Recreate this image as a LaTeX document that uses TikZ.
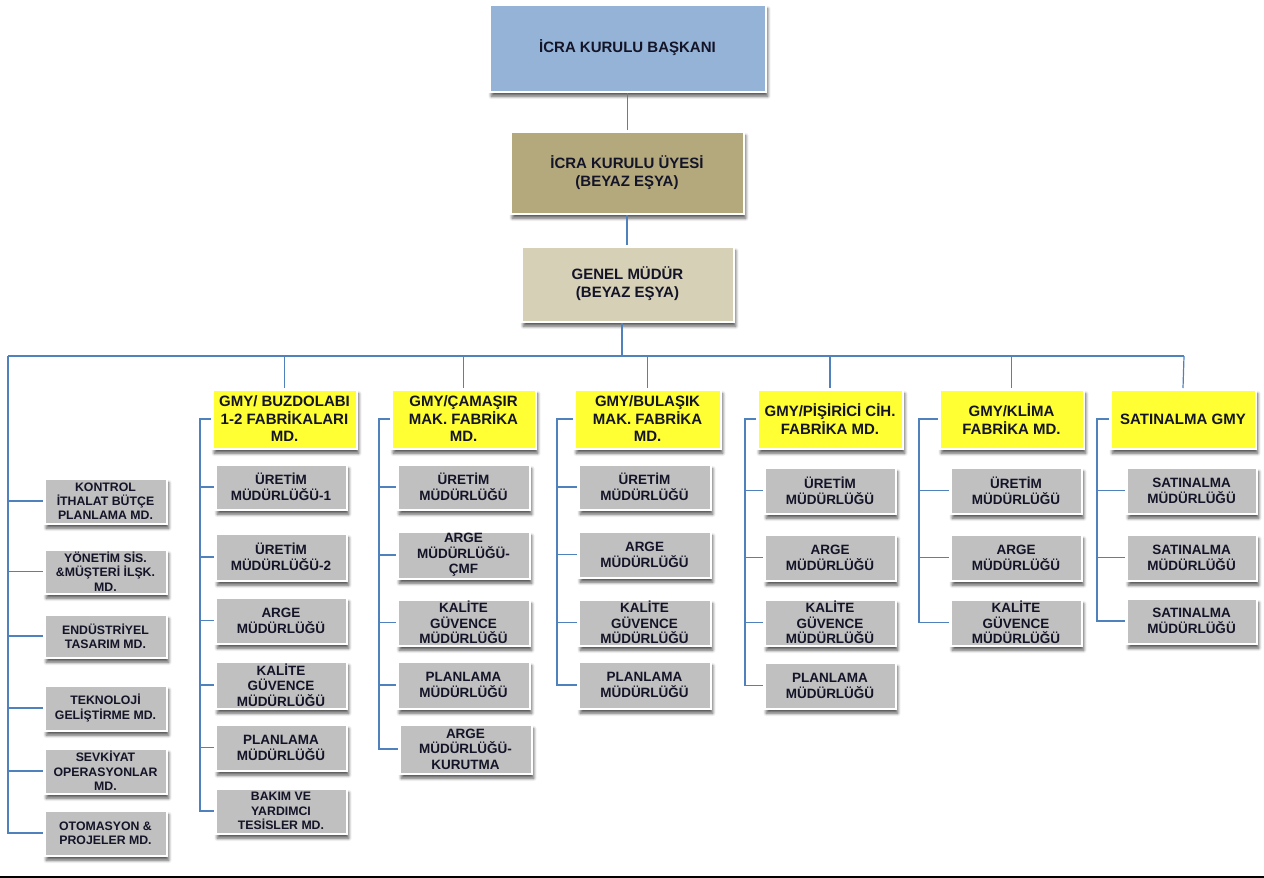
\documentclass[tikz,border=0pt]{standalone}
\usepackage{fontspec}
\setmainfont{Liberation Sans}
\usetikzlibrary{shadows.blur}
\definecolor{cTop}{HTML}{95B3D7}
\definecolor{cUye}{HTML}{B4A97C}
\definecolor{cGm}{HTML}{D6D0B6}
\definecolor{cYel}{HTML}{FFFF33}
\definecolor{cGry}{HTML}{C0C0C0}
\definecolor{cLine}{HTML}{4F81BD}
\definecolor{cTxt}{HTML}{141428}
\newcommand{\bx}[7]{%
  \pgfmathsetmacro{\bxcx}{(#3+#5)/2}\pgfmathsetmacro{\bxcy}{(#4+#6)/2}%
  \pgfmathsetmacro{\bxw}{#5-#3-2.5}\pgfmathsetmacro{\bxh}{#6-#4-2.5}%
  \node[#2, minimum width=\bxw pt, minimum height=\bxh pt] (#1) at (\bxcx,\bxcy) {#7};}
\tikzset{
  box/.style={draw=white, line width=2.5pt, inner sep=0pt, align=center, text=cTxt,
    blur shadow={shadow xshift=2pt, shadow yshift=-4.5pt, shadow blur radius=3pt, shadow blur steps=6, shadow opacity=65}},
  topbox/.style={box, font=\bfseries\fontsize{15}{18}\selectfont},
  hdr/.style={box, fill=cYel, font=\bfseries\fontsize{15}{17.5}\selectfont},
  gbox/.style={box, fill=cGry, font=\bfseries\fontsize{13.5}{16}\selectfont},
  gbox3/.style={box, fill=cGry, font=\bfseries\fontsize{13.5}{15.5}\selectfont},
  lbox/.style={box, fill=cGry, font=\bfseries\fontsize{12.3}{14.3}\selectfont},
  conn/.style={draw=cLine, line width=1.2pt},
}
\begin{document}
\begin{tikzpicture}[x=1pt,y=-1pt]
\useasboundingbox (0,0) rectangle (1264,878);
% top chain
\bx{top}{topbox,fill=cTop}{488}{3}{767}{93}{İCRA KURULU BAŞKANI}
\bx{uye}{topbox,fill=cUye}{509}{130}{745}{215}{İCRA KURULU ÜYESİ\\(BEYAZ EŞYA)}
\bx{gm}{topbox,fill=cGm}{520}{245}{735}{323}{GENEL MÜDÜR\\(BEYAZ EŞYA)}
% left staff boxes
\bx{k1}{lbox}{43}{477}{168}{525}{KONTROL\\İTHALAT BÜTÇE\\PLANLAMA MD.}
\bx{k2}{lbox}{43}{548}{168}{595}{YÖNETİM SİS.\\\&MÜŞTERİ İLŞK.\\MD.}
\bx{k3}{lbox}{43}{613}{168}{659}{ENDÜSTRİYEL\\TASARIM MD.}
\bx{k4}{lbox}{43}{684}{168}{732}{TEKNOLOJİ\\GELİŞTİRME MD.}
\bx{k5}{lbox}{43}{747}{168}{795}{SEVKİYAT\\OPERASYONLAR\\MD.}
\bx{k6}{lbox}{43}{809}{168}{857}{OTOMASYON \&\\PROJELER MD.}
% column 1
\bx{h1}{hdr}{211}{388}{358}{450}{GMY/ BUZDOLABI\\1-2 FABRİKALARI\\MD.}
\bx{a1}{gbox}{214}{463}{348}{511}{ÜRETİM\\MÜDÜRLÜĞÜ-1}
\bx{a2}{gbox}{214}{532}{348}{582}{ÜRETİM\\MÜDÜRLÜĞÜ-2}
\bx{a3}{gbox}{214}{596}{348}{645}{ARGE\\MÜDÜRLÜĞÜ}
\bx{a4}{gbox3}{214}{660}{348}{710}{KALİTE\\GÜVENCE\\MÜDÜRLÜĞÜ}
\bx{a5}{gbox}{214}{723}{348}{772}{PLANLAMA\\MÜDÜRLÜĞÜ}
\bx{a6}{lbox}{214}{787}{348}{835}{BAKIM VE\\YARDIMCI\\TESİSLER MD.}
% column 2
\bx{h2}{hdr}{390}{388}{537}{450}{GMY/ÇAMAŞIR\\MAK. FABRİKA\\MD.}
\bx{b1}{gbox}{396}{463}{531}{511}{ÜRETİM\\MÜDÜRLÜĞÜ}
\bx{b2}{gbox3}{396}{530}{531}{580}{ARGE\\MÜDÜRLÜĞÜ-\\ÇMF}
\bx{b3}{gbox3}{396}{598}{531}{647}{KALİTE\\GÜVENCE\\MÜDÜRLÜĞÜ}
\bx{b4}{gbox}{396}{660}{531}{710}{PLANLAMA\\MÜDÜRLÜĞÜ}
\bx{b5}{gbox3}{398}{723}{533}{775}{ARGE\\MÜDÜRLÜĞÜ-\\KURUTMA}
% column 3
\bx{h3}{hdr}{573}{388}{722}{450}{GMY/BULAŞIK\\MAK. FABRİKA\\MD.}
\bx{c1}{gbox}{577}{463}{712}{511}{ÜRETİM\\MÜDÜRLÜĞÜ}
\bx{c2}{gbox}{577}{530}{712}{579}{ARGE\\MÜDÜRLÜĞÜ}
\bx{c3}{gbox3}{577}{598}{712}{647}{KALİTE\\GÜVENCE\\MÜDÜRLÜĞÜ}
\bx{c4}{gbox}{577}{660}{712}{710}{PLANLAMA\\MÜDÜRLÜĞÜ}
% column 4
\bx{h4}{hdr}{756}{388}{904}{450}{GMY/PİŞİRİCİ CİH.\\FABRİKA MD.}
\bx{d1}{gbox}{763}{466}{897}{515}{ÜRETİM\\MÜDÜRLÜĞÜ}
\bx{d2}{gbox}{763}{533}{897}{582}{ARGE\\MÜDÜRLÜĞÜ}
\bx{d3}{gbox3}{763}{598}{897}{647}{KALİTE\\GÜVENCE\\MÜDÜRLÜĞÜ}
\bx{d4}{gbox}{763}{661}{897}{710}{PLANLAMA\\MÜDÜRLÜĞÜ}
% column 5
\bx{h5}{hdr}{938}{388}{1085}{450}{GMY/KLİMA\\FABRİKA MD.}
\bx{e1}{gbox}{949}{466}{1083}{515}{ÜRETİM\\MÜDÜRLÜĞÜ}
\bx{e2}{gbox}{949}{533}{1083}{582}{ARGE\\MÜDÜRLÜĞÜ}
\bx{e3}{gbox3}{949}{598}{1083}{647}{KALİTE\\GÜVENCE\\MÜDÜRLÜĞÜ}
% column 6
\bx{h6}{hdr}{1109}{388}{1257}{450}{SATINALMA GMY}
\bx{f1}{gbox}{1125}{466}{1258}{515}{SATINALMA\\MÜDÜRLÜĞÜ}
\bx{f2}{gbox}{1125}{533}{1258}{582}{SATINALMA\\MÜDÜRLÜĞÜ}
\bx{f3}{gbox}{1125}{597}{1258}{645}{SATINALMA\\MÜDÜRLÜĞÜ}
% coordinates for the buses
\coordinate (bus) at (622,356);
\coordinate (lb) at (8,356);
\coordinate (rb) at (1184,356);
\coordinate (v1) at (200,0);
\coordinate (v2) at (379,0);
\coordinate (v3) at (557,0);
\coordinate (v4) at (745,0);
\coordinate (v5) at (919,0);
\coordinate (v6) at (1097,0);
% connectors
\draw[conn] (top.south) -- (uye.north -| top.south);
\draw[conn] (uye.south) -- (gm.north -| uye.south);
\draw[conn] (gm.south -| bus) -- (bus);
\draw[conn] (lb) -- (rb);
\foreach \h in {h1,h2,h3,h4,h5}{\draw[conn] (\h.north |- bus) -- (\h.north);}
\draw[conn] (rb) -- (h6.north);
% left staff
\draw[conn] (lb) |- (k6.west);
\foreach \n in {k1,k2,k3,k4,k5}{\draw[conn] (lb |- \n.west) -- (\n.west);}
% columns
\draw[conn] (h1.west) -- (h1.west -| v1) |- (a6.west);
\foreach \n in {a1,a2,a3,a4,a5}{\draw[conn] (\n.west -| v1) -- (\n.west);}
\draw[conn] (h2.west) -- (h2.west -| v2) |- (b5.west);
\foreach \n in {b1,b2,b3,b4}{\draw[conn] (\n.west -| v2) -- (\n.west);}
\draw[conn] (h3.west) -- (h3.west -| v3) |- (c4.west);
\foreach \n in {c1,c2,c3}{\draw[conn] (\n.west -| v3) -- (\n.west);}
\draw[conn] (h4.west) -- (h4.west -| v4) |- (d4.west);
\foreach \n in {d1,d2,d3}{\draw[conn] (\n.west -| v4) -- (\n.west);}
\draw[conn] (h5.west) -- (h5.west -| v5) |- (e3.west);
\foreach \n in {e1,e2}{\draw[conn] (\n.west -| v5) -- (\n.west);}
\draw[conn] (h6.west) -- (h6.west -| v6) |- (f3.west);
\foreach \n in {f1,f2}{\draw[conn] (\n.west -| v6) -- (\n.west);}
% bottom rule
\draw[line width=1.6pt, black] (0,877) -- (1264,877);
\end{tikzpicture}
\end{document}
